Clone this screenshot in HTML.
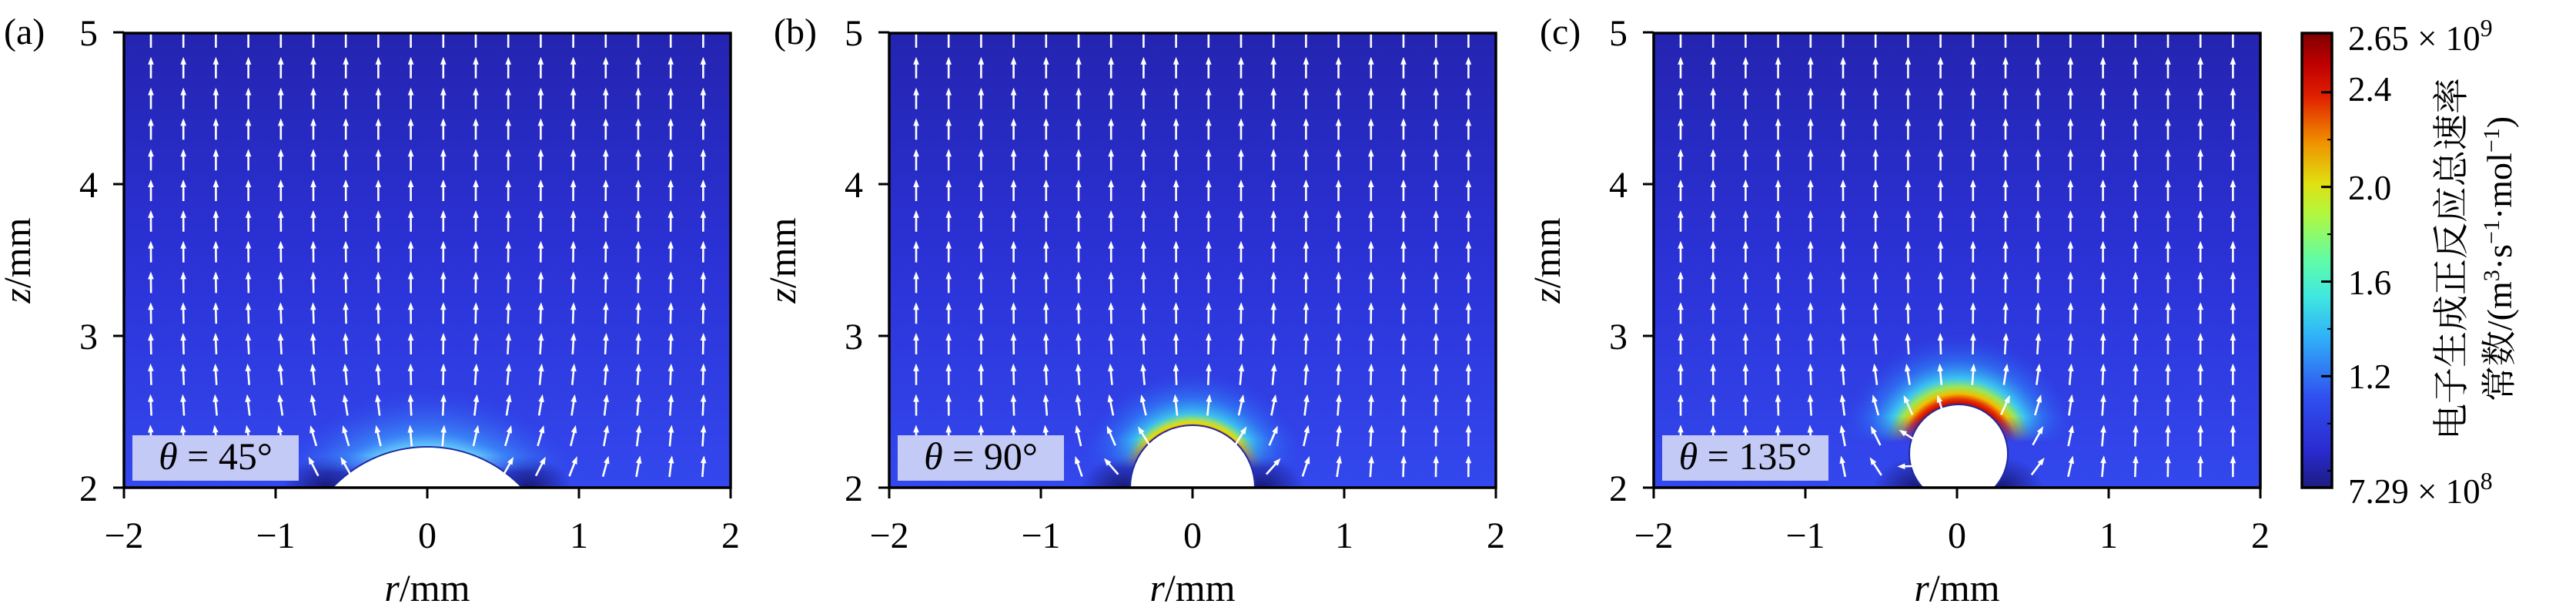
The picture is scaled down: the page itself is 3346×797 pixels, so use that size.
<!DOCTYPE html>
<html><head><meta charset="utf-8">
<style>
html,body{margin:0;padding:0;background:#fff;overflow:hidden;}
svg{display:block;}
text{font-family:"Liberation Serif","Noto Serif CJK SC",serif;fill:#000;}
</style></head>
<body>
<svg id="s" width="3346" height="797" viewBox="0 0 3346 797" xmlns="http://www.w3.org/2000/svg">
<defs>
<linearGradient id="bg" x1="0" y1="0" x2="0" y2="1">
<stop offset="0" stop-color="#2424b0"/><stop offset="0.5" stop-color="#2b32d6"/><stop offset="1" stop-color="#3348ee"/>
</linearGradient>
<linearGradient id="cb" x1="0" y1="1" x2="0" y2="0">
<stop offset="0" stop-color="#1c1c80"/>
<stop offset="0.08" stop-color="#2a2ad0"/>
<stop offset="0.2" stop-color="#3050f0"/>
<stop offset="0.33" stop-color="#30b0f8"/>
<stop offset="0.42" stop-color="#40e8e0"/>
<stop offset="0.5" stop-color="#60fca8"/>
<stop offset="0.6" stop-color="#b0f840"/>
<stop offset="0.67" stop-color="#e0e010"/>
<stop offset="0.76" stop-color="#f09000"/>
<stop offset="0.86" stop-color="#e02000"/>
<stop offset="0.93" stop-color="#c00000"/>
<stop offset="1" stop-color="#800000"/>
</linearGradient>
<radialGradient id="dk">
<stop offset="0" stop-color="#14146a" stop-opacity="0.9"/><stop offset="1" stop-color="#14146a" stop-opacity="0"/>
</radialGradient>
</defs>
<g id="root"></g>
</svg>
<script>
const NS="http://www.w3.org/2000/svg";
const root=document.getElementById('root');
const defs=document.querySelector('defs');
function el(t,a,p){const e=document.createElementNS(NS,t);for(const k in a)e.setAttribute(k,a[k]);(p||root).appendChild(e);return e;}
const U=197, W=788, T=43, B=633;
const panels=[
 {L:161,lab:'(a)',labx:5,th:'45',cx:555,cy:750,r:169,me:-20,
  stops:[[0,'#70e0ff',0.9],[0.25,'#40b0ff',0.55],[1,'#3348ee',0]],g:80},
 {L:1155,lab:'(b)',labx:1005,th:'90',cx:1549,cy:633,r:80,me:-25,
  stops:[[0,'#e07000',1],[0.05,'#f0d800',1],[0.12,'#a0f060',0.9],[0.22,'#40e0f0',0.8],[0.5,'#30a0ff',0.45],[1,'#3348ee',0]],g:75},
 {L:2148,lab:'(c)',labx:2000,th:'135',cx:2544,cy:589,r:63,me:-15,
  stops:[[0,'#b00000',1],[0.08,'#e83000',1],[0.16,'#f0c000',1],[0.25,'#a0f050',0.95],[0.36,'#40e0f0',0.85],[0.6,'#30a0ff',0.45],[1,'#3348ee',0]],g:95}
];
panels.forEach((p,i)=>{
 const L=p.L,R=L+W;
 const cp=el('clipPath',{id:'cp'+i},defs);el('rect',{x:L,y:T,width:W,height:B-T},cp);
 const rg=el('radialGradient',{id:'rg'+i,gradientUnits:'userSpaceOnUse',cx:p.cx,cy:p.cy,r:p.r+p.g},defs);
 const f=p.r/(p.r+p.g);
 p.stops.forEach(s=>el('stop',{offset:f+(1-f)*s[0],'stop-color':s[1],'stop-opacity':s[2]},rg));
 const m=el('mask',{id:'mk'+i,maskUnits:'userSpaceOnUse',x:L,y:T,width:W,height:B-T},defs);
 const mg=el('linearGradient',{id:'mg'+i,gradientUnits:'userSpaceOnUse',x1:0,y1:p.cy-p.r,x2:0,y2:Math.min(p.cy,B)+p.me},defs);
 el('stop',{offset:0.3,'stop-color':'#fff'},mg);el('stop',{offset:1,'stop-color':'#000'},mg);
 el('rect',{x:L,y:T,width:W,height:B-T,fill:'url(#mg'+i+')'},m);
 const g=el('g',{'clip-path':'url(#cp'+i+')'});
 el('rect',{x:L,y:T,width:W,height:B-T,fill:'url(#bg)'},g);
 const hw=Math.sqrt(Math.max(0,p.r*p.r-(B-p.cy)*(B-p.cy)));
 [-1,1].forEach(sg=>el('ellipse',{cx:p.cx+sg*(hw+10),cy:B,rx:55,ry:40,fill:'url(#dk)'},g));
 el('circle',{cx:p.cx,cy:p.cy,r:p.r+p.g,fill:'url(#rg'+i+')',mask:'url(#mk'+i+')'},g);
 el('circle',{cx:p.cx,cy:p.cy,r:p.r+1,fill:'none',stroke:'#1e2aa0','stroke-width':2},g);
 el('circle',{cx:p.cx,cy:p.cy,r:p.r,fill:'#fff'},g);
 for(let c=0;c<18;c++)for(let rr=0;rr<15;rr++){
  const x=L+35+c*42.2, hy=34+rr*39.8, ym=hy+14;
  const dx=x-p.cx, dy=ym-p.cy, dist=Math.hypot(dx,dy), d=dist-p.r;
  if(d<4)continue;
  const w=Math.exp(-d/(p.r*0.35+30))*0.9;
  let vx=w*dx/dist, vy=-(1-w)+w*dy/dist;
  const n=Math.hypot(vx,vy);vx/=n;vy/=n;
  const ang=Math.atan2(vx,-vy)*180/Math.PI;
  const a=el('g',{transform:`translate(${x},${ym}) rotate(${ang})`},g);
  el('line',{x1:0,y1:14,x2:0,y2:-6,stroke:'#fff','stroke-width':2.6},a);
  el('polygon',{points:'0,-14 -3.8,-4 3.8,-4',fill:'#fff'},a);
 }
 el('rect',{x:L+11,y:565,width:216,height:59,fill:'#c4caf6'},root);
 const t=el('text',{x:L+119,y:609,'font-size':50,'text-anchor':'middle'});
 t.innerHTML='<tspan font-style="italic">θ</tspan> = '+p.th+'°';
 el('rect',{x:L,y:T,width:W,height:B-T,fill:'none',stroke:'#000','stroke-width':3.5});
 for(let k=-2;k<=2;k++){const x=L+(k+2)*U;
  el('line',{x1:x,y1:B,x2:x,y2:B+14,stroke:'#000','stroke-width':3});
  const tt=el('text',{x:x,y:711,'font-size':48,'text-anchor':'middle'});tt.textContent=(k<0?'−':'')+Math.abs(k);
 }
 for(let k=2;k<=5;k++){const y=B-(k-2)*U;
  el('line',{x1:L-14,y1:y,x2:L,y2:y,stroke:'#000','stroke-width':3});
  const tt=el('text',{x:L-34,y:y+17,'font-size':48,'text-anchor':'end'});tt.textContent=k;
 }
 const xl=el('text',{x:L+W/2,y:780,'font-size':50,'text-anchor':'middle'});
 xl.innerHTML='<tspan font-style="italic">r</tspan>/mm';
 const yl=el('text',{x:0,y:0,'font-size':50,'text-anchor':'middle',transform:`translate(${L-122},${338}) rotate(-90)`});
 yl.innerHTML='<tspan font-style="italic">z</tspan>/mm';
 const pl=el('text',{x:p.labx,y:57,'font-size':48});pl.textContent=p.lab;
});
el('rect',{x:2990,y:43,width:39,height:590,fill:'url(#cb)',stroke:'#000','stroke-width':3.5});
function cy(v){return 43+(2.65-v)/1.921*590;}
[2.4,2.0,1.6,1.2].forEach(v=>el('line',{x1:3015,y1:cy(v),x2:3029,y2:cy(v),stroke:'#000','stroke-width':3}));
[2.2,1.8,1.4,1.0,0.8].forEach(v=>el('line',{x1:3023,y1:cy(v),x2:3029,y2:cy(v),stroke:'#000','stroke-width':2}));
function tx(x,y,s,h,a){const t=el('text',{x:x,y:y,'font-size':s});t.innerHTML=h;if(a)t.setAttribute('text-anchor',a);return t;}
tx(3050,65,45,'2.65 × 10<tspan dy="-18" font-size="32">9</tspan>');
tx(3050,131,45,'2.4');tx(3050,259,45,'2.0');tx(3050,382,45,'1.6');tx(3050,504,45,'1.2');
tx(3050,653,45,'7.29 × 10<tspan dy="-18" font-size="32">8</tspan>');
const c1=el('text',{x:0,y:0,'font-size':47,'text-anchor':'middle',transform:'translate(3200,336) rotate(-90)'});
c1.textContent='电子生成正反应总速率';
const c2=el('text',{x:0,y:0,'font-size':46,'text-anchor':'middle',transform:'translate(3262,336) rotate(-90)'});
c2.innerHTML='常数/(m<tspan dy="-16" font-size="30">3</tspan><tspan dy="16">·s</tspan><tspan dy="-16" font-size="30">−1</tspan><tspan dy="16">·mol</tspan><tspan dy="-16" font-size="30">−1</tspan><tspan dy="16">)</tspan>';
</script>
</body></html>
